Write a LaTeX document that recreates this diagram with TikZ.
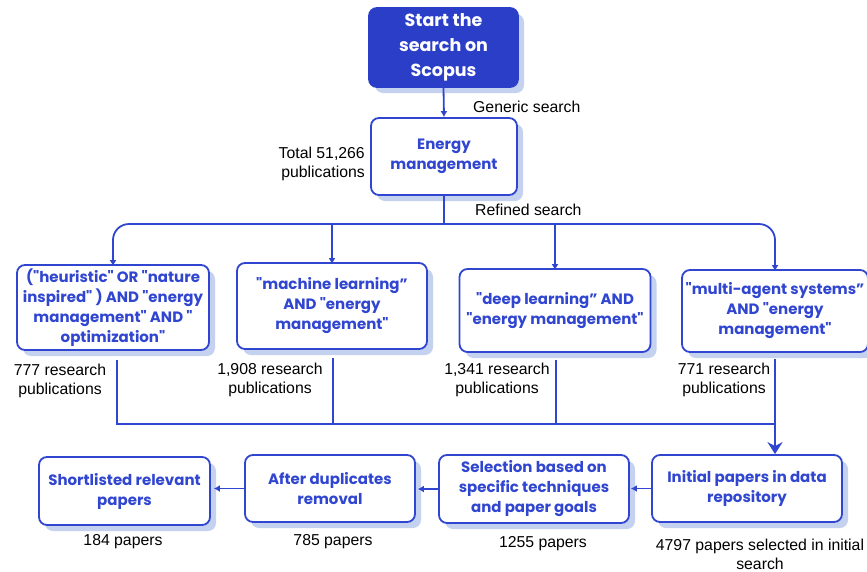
\documentclass[tikz,border=0pt]{standalone}
\usepackage{fontspec}
\setmainfont{Liberation Sans}
\newfontfamily\boxfont{Poppins}
\usetikzlibrary{arrows.meta}
\definecolor{deepblue}{RGB}{42,62,200}
\definecolor{lineblue}{RGB}{48,70,208}
% a box with its solid offset shadow: style, name, x, y, width, height, text
\newcommand\flowbox[7]{%
  \node[shadowbox, minimum width=#5, minimum height=#6, xshift=6pt, yshift=-6pt] (#2-shadow) at (#3,#4) {};
  \node[#1, minimum width=#5, minimum height=#6] (#2) at (#3,#4) {#7};%
}
\begin{document}
\begin{tikzpicture}[x=1pt,y=-1pt,
  card/.style={draw=lineblue, line width=1.8pt, fill=white, rounded corners=8pt,
    align=center, inner sep=2pt, text=lineblue,
    font=\boxfont\bfseries\fontsize{15}{20}\selectfont},
  startcard/.style={card, fill=deepblue, text=white, draw=deepblue,
    font=\boxfont\bfseries\fontsize{17.5}{25}\selectfont},
  shadowbox/.style={fill={rgb,255:red,196;green,210;blue,240}, draw=none,
    rounded corners=8pt, inner sep=0pt},
  note/.style={align=center, font=\fontsize{15.8}{19}\selectfont, inner sep=0pt},
  link/.style={draw=lineblue, line width=1.8pt},
  tip/.style={-{Latex[length=6pt,width=7pt]}},
  bigtip/.style={-{Stealth[length=12pt,width=15pt,inset=4pt]}, line width=2.8pt}
]
\useasboundingbox (0,0) rectangle (867,571);

% top of the flow
\flowbox{startcard}{start}{443.5}{47.5}{149pt}{79pt}{Start the\\search on\\Scopus}
\flowbox{card}{energy}{444}{156.5}{146pt}{77pt}{Energy\\management}

% the four refined queries
\flowbox{card}{q1}{113}{307.5}{192pt}{85pt}
  {("heuristic" OR "nature\\inspired" ) AND "energy\\management" AND "\\optimization"}
\flowbox{card}{q2}{332}{306}{190pt}{86pt}{"machine learning”\\AND "energy\\management"}
\flowbox{card}{q3}{555}{310.5}{191pt}{83pt}{"deep learning” AND\\"energy management"}
\flowbox{card}{q4}{775}{311}{186pt}{82pt}{"multi-agent systems”\\AND "energy\\management"}

% screening stages
\flowbox{card}{init}{747}{488.5}{190pt}{67pt}{Initial papers in data\\repository}
\flowbox{card}{sel}{534}{489}{190pt}{68pt}{Selection based on\\specific techniques\\and paper goals}
\flowbox{card}{after}{330}{488.5}{170pt}{67pt}{After duplicates\\removal}
\flowbox{card}{short}{124.5}{491}{171pt}{68pt}{Shortlisted relevant\\papers}

% counts and annotations
\node[note, anchor=west] (generic) at (473,107) {Generic search};
\node[note, anchor=east, align=right] (total) at (365,164) {Total 51,266\\publications};
\node[note, anchor=west] (refined) at (475,210) {Refined search};
\node[note] (n1) at (60,381) {777 research\\publications};
\node[note] (n2) at (270,380) {1,908 research\\publications};
\node[note] (n3) at (497,380) {1,341 research\\publications};
\node[note] (n4) at (724,380) {771 research\\publications};
\node[note] (c1) at (123,542) {184 papers};
\node[note] (c2) at (333,542) {785 papers};
\node[note] (c3) at (543,544) {1255 papers};
\node[note] (c4) at (760,554) {4797 papers selected in initial\\search};

% junction points
\coordinate (split) at (444,224);
\coordinate (merge) at (775,424);

% connectors
\draw[link, tip] (start.south) -- (energy.north);
\draw[link] (energy.south) -- (split);
\draw[link, tip, rounded corners=16pt] (split) -| ([yshift=-2pt]q1.north);
\draw[link, tip, rounded corners=16pt] (split) -| ([yshift=-2pt]q4.north);
\draw[link, tip] (q2.north |- split) -- ([yshift=-2pt]q2.north);
\draw[link, tip] (q3.north |- split) -- ([yshift=-2pt]q3.north);

\draw[link] ([xshift=4pt,yshift=-9pt]q1.south) |- (merge);
\draw[link] ([xshift=1pt,yshift=-8pt]q2.south) -- ([xshift=1pt]q2.south |- merge);
\draw[link] ([xshift=1pt,yshift=-7pt]q3.south) -- ([xshift=1pt]q3.south |- merge);
\draw[link] ([yshift=-6pt]q4.south) -- (merge);
\draw[link, bigtip] (merge) -- (init.north -| merge);

\draw[link, tip] (init.west) -- ([xshift=1pt]sel.east |- init.west);
\draw[link, tip] (sel.west) -- ([xshift=2pt]after.east |- sel.west);
\draw[link, tip] (after.west) -- ([xshift=3pt]short.east |- after.west);
\end{tikzpicture}
\end{document}
